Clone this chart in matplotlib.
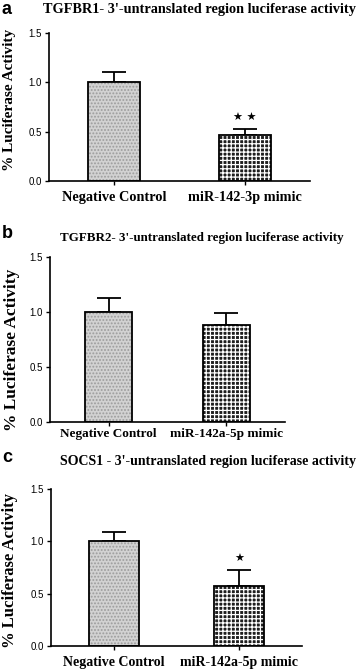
import matplotlib
matplotlib.use("Agg")
import matplotlib.pyplot as plt

plt.rcParams['hatch.linewidth'] = 0.9

groups_a = ['Negative Control', 'miR-142-3p mimic']
groups_bc = ['Negative Control', 'miR-142a-5p mimic']

mean_a = [1.00, 0.47]
err_a = [0.10, 0.055]
mean_b = [1.00, 0.88]
err_b = [0.125, 0.115]
mean_c = [1.00, 0.57]
err_c = [0.085, 0.155]

titles = ["TGFBR1- 3'-untranslated region luciferase activity",
          "TGFBR2- 3'-untranslated region luciferase activity",
          "SOCS1 - 3'-untranslated region luciferase activity"]
letters = ['a', 'b', 'c']
stars = ['\u2605 \u2605', '', '\u2605']
yticks = [0.0, 0.5, 1.0, 1.5]

W, H = 358, 671
fig = plt.figure(figsize=(W / 100, H / 100), dpi=100)

# pixel boxes: left, right, top, bottom
boxes = [(49, 310, 33, 181), (50, 285, 257, 422), (51, 302, 489, 646)]
title_pos = [(199, 10, 10.3), (202, 238, 9.4), (208, 462, 10.0)]
letter_pos = [(2, 10), (2, 233), (2, 458)]
ylab_pos = [(10, 100, 11), (12, 350, 12.5), (10, 570, 12)]
xlab_size = [10.3, 9.5, 10.0]
label_pad = [4, 1.5, 4]

serif = 'Liberation Serif'
panels = [(groups_a, mean_a, err_a), (groups_bc, mean_b, err_b), (groups_bc, mean_c, err_c)]

for i, (groups, means, errs) in enumerate(panels):
    l, r, t, b = boxes[i]
    ax = fig.add_axes([l / W, 1 - b / H, (r - l) / W, (b - t) / H])
    x = [0, 1]
    # light stippled bar
    ax.bar(x[0], means[0], width=0.4, color='#d2d2d2', edgecolor='#9c9c9c',
           hatch='.....', linewidth=0, zorder=2)
    # dark checkered bar
    ax.bar(x[1], means[1], width=0.4, color='#1e1e1e', edgecolor='white',
           hatch='++++', linewidth=0, zorder=2)
    ax.bar(x, means, width=0.4, fill=False, edgecolor='black', linewidth=1.3, zorder=3)
    ax.errorbar(x, means, yerr=[[0, 0], errs], fmt='none', ecolor='black',
                elinewidth=1.3, capsize=8.5, capthick=1.3, zorder=1)
    if stars[i]:
        ax.text(x[1], means[1] + errs[1] + 0.06, stars[i], ha='center', va='bottom',
                fontsize=8, family='DejaVu Sans')
    ax.set_xlim(-0.5, 1.5)
    ax.set_ylim(0, 1.5)
    ax.set_yticks(yticks)
    ax.set_yticklabels([f'{v:.1f}' for v in yticks], fontsize=7, family='Liberation Sans')
    ax.set_xticks(x)
    ax.set_xticklabels(groups, fontsize=xlab_size[i], family=serif, fontweight='bold')
    ax.tick_params(axis='both', length=3, width=1, direction='out', pad=2)
    ax.tick_params(axis='x', pad=label_pad[i])
    for s in ['top', 'right']:
        ax.spines[s].set_visible(False)
    for s in ['left', 'bottom']:
        ax.spines[s].set_linewidth(1.2)

    tx, ty, tfs = title_pos[i]
    fig.text(tx / W, 1 - ty / H, titles[i], ha='center', va='center',
             fontsize=tfs, family=serif, fontweight='bold')
    lx, ly = letter_pos[i]
    fig.text(lx / W, 1 - ly / H, letters[i], ha='left', va='center',
             fontsize=13, family='Liberation Sans', fontweight='bold')
    yx, yy, fs = ylab_pos[i]
    fig.text(yx / W, 1 - yy / H, '% Luciferase Activity', rotation=90,
             ha='center', va='center', fontsize=fs, family=serif, fontweight='bold')

fig.savefig('out.png', dpi=100)
